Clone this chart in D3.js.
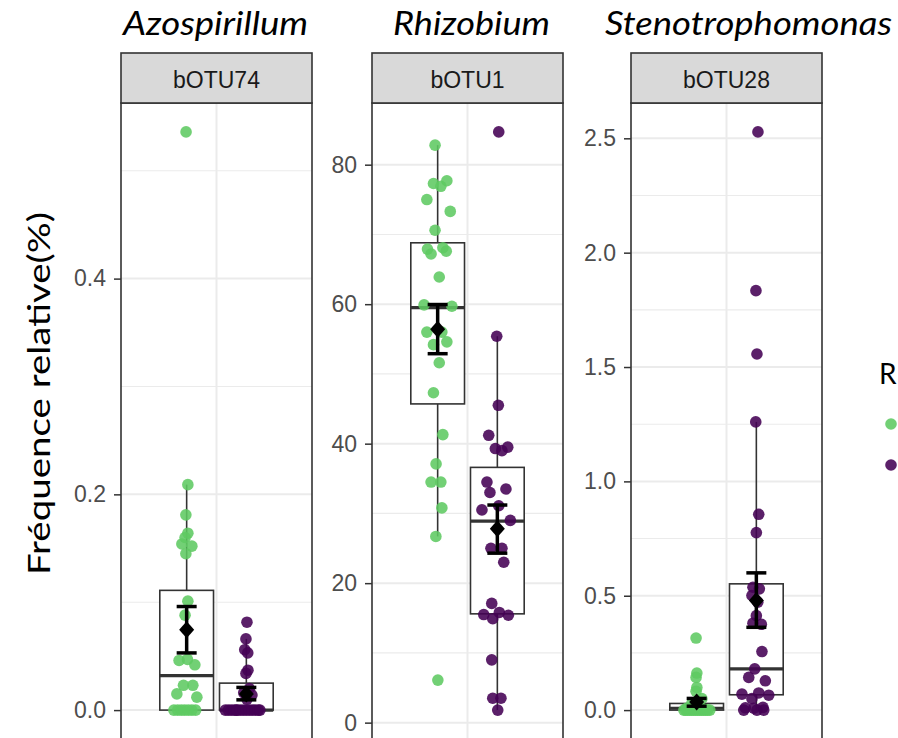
<!DOCTYPE html>
<html>
<meta charset="utf-8">
<style>
    body { margin: 0; background: #fff; }
    svg { display: block; }
    .tick text { font-family: "Liberation Sans", Arial, sans-serif; font-size: 23px; fill: #4d4d4d; }
    .tick line { stroke: #333; stroke-width: 1.5px; }
    .strip text { font-family: "Liberation Sans", Arial, sans-serif; font-size: 23px; fill: #1a1a1a; }
    .title { font-family: Lato, sans-serif; font-style: italic; font-size: 32px; fill: #000; }
    .ytitle, .legtitle { font-family: Lato, sans-serif; fill: #000; }
</style>
<body>
<div id="chart"></div>
<script src="https://d3js.org/d3.v7.min.js"></script>
<script>
var genera = ["Azospirillum", "Rhizobium", "Stenotrophomonas"];
var otus = ["bOTU74", "bOTU1", "bOTU28"];
var groups = ["g1", "g2"];
var colours = ["#5ec962", "#440154"];

// points: [relative frequency, jitter (-1..1)]
var azoG = [[0.536,-0.03],[0.209,0.06],[0.181,-0.04],[0.164,0.06],[0.160,-0.08],[0.154,-0.24],[0.152,0.26],[0.145,-0.04],
    [0.101,0.06],[0.088,-0.08],[0.047,0.04],[0.046,-0.38],[0.042,0.41],[0.023,-0.16],[0.023,0.31],[0.015,-0.49],[0.012,0.51],
    [0,-0.64],[0,-0.45],[0,-0.27],[0,-0.1],[0,0.08],[0,0.26],[0,0.45]];
var azoP = [[0.0815,0.03],[0.066,-0.02],[0.056,-0.08],[0.053,0.07],[0.037,0.08],[0.034,-0.02],[0.020,0.15],[0.016,-0.13],
    [0.014,0.28],[0.010,0.03],[0,-1.05],[0,-0.9],[0,-0.75],[0,-0.6],[0,-0.5],[0,-0.45],[0,-0.3],[0,-0.15],[0,0],
    [0,0.15],[0,0.3],[0,0.45],[0,0.6],[0,0.68]];
var rhiG = [[82.8,-0.13],[77.3,-0.21],[76.9,0.16],[77.7,0.46],[75.0,-0.54],[73.3,0.63],[70.6,-0.13],[67.9,-0.51],[67.2,-0.33],
    [67.6,0.43],[68.1,0.26],[63.9,0.08],[59.9,-0.68],[59.7,0.71],[56.0,-0.54],[56.0,0.21],[54.2,-0.21],[54.6,0.46],[51.6,0.08],
    [47.3,-0.21],[41.3,0.26],[37.1,-0.08],[34.5,-0.33],[34.5,0.16],[30.8,0.21],[26.7,-0.09],[6.1,0.01]];
var rhiP = [[84.7,0.07],[55.4,-0.03],[45.5,0.05],[41.2,-0.43],[39.3,-0.1],[39.0,0.23],[39.5,0.52],[34.5,-0.52],[33.0,-0.37],
    [33.5,0.43],[31.1,0.07],[30.5,-0.77],[29.0,0.65],[25.0,-0.32],[25.0,0.23],[23.0,0.32],[17.1,-0.28],[15.5,-0.68],[15.8,0.1],
    [15.4,0.55],[14.9,-0.23],[9.0,-0.28],[3.5,-0.23],[3.5,0.18],[1.8,0.02]];
var steG = [[0.315,-0.03],[0.162,0.01],[0.143,-0.03],[0.099,0.01],[0.082,-0.03],[0.05,0.26],[0.03,-0.24],[0.012,0.1],
    [0.008,-0.5],[0.005,0.3],[0,-0.64],[0,-0.55],[0,-0.45],[0,-0.35],[0,-0.25],[0,-0.15],[0,-0.05],[0,0.05],[0,0.15],
    [0,0.25],[0,0.35],[0,0.45],[0,0.55],[0,0.66]];
var steP = [[2.528,0.08],[1.834,-0.02],[1.557,0.03],[1.260,-0.03],[0.856,0.12],[0.776,0],[0.537,-0.17],[0.530,0.15],
    [0.501,-0.22],[0.472,0.07],[0.413,0],[0.380,-0.17],[0.375,0.25],[0.256,0.28],[0.18,-0.08],[0.143,-0.38],[0.128,0.45],
    [0.075,0.12],[0.07,-0.72],[0.065,0.62],[0.05,-0.22],[0.012,0.33],[0.01,-0.55],[0.008,-0.13],[0,-0.63],[0,0.03],[0,0.37]];
var points = [[azoG, azoP], [rhiG, rhiP], [steG, steP]];

// boxplot and mean +/- se: [green, purple] per panel
var q1 = [[0, 0], [45.7, 15.6], [0, 0.067]];
var med = [[0.032, 0], [59.5, 28.9], [0.008, 0.18]];
var q3 = [[0.111, 0.025], [68.8, 36.6], [0.029, 0.552]];
var whiskLo = [[0, 0], [26.7, 1.8], [0, 0]];
var whiskHi = [[0.209, 0.066], [82.8, 55.4], [0.068, 1.26]];
var means = [[0.0744, 0.015], [56.4, 27.8], [0.035, 0.479]];
var errLo = [[0.053, 0.0095], [52.9, 24.3], [0.017, 0.362]];
var errHi = [[0.096, 0.021], [59.95, 31.2], [0.051, 0.600]];

var W = 898, H = 738;
var panelLeft = [121, 372, 631], panelW = 191;
var stripTop = 53, panelTop = 103, panelBottom = 739;
var titleCx = [215.5, 471.5, 748.5], titleW = [185, 157, 287];

var svg = d3.select("#chart").append("svg").attr("width", W).attr("height", H);
svg.append("rect").attr("width", W).attr("height", H).attr("fill", "#fff");

var jit = d3.scaleLinear().domain([-1, 1]).range([-20, 20]);

genera.forEach(function(gen, i) {
    var g = svg.append("g").attr("transform", "translate(" + panelLeft[i] + ",0)");
    var x = d3.scaleBand().domain([otus[i]]).range([0, panelW]).paddingOuter(0.3).paddingInner(0);
    var xg = d3.scaleBand().domain(groups).range([0, x.bandwidth()]).paddingInner(0.1).paddingOuter(0.05);
    var vals = points[i][0].concat(points[i][1]).map(function(d) { return d[0]; });
    var ext = d3.extent(vals), pad = (ext[1] - ext[0]) * 0.05;
    var y = d3.scaleLinear().domain([ext[0] - pad, ext[1] + pad]).range([panelBottom, panelTop]);

    var major = y.ticks(4), step = major[1] - major[0];
    var minor = [major[0] - step / 2].concat(major.map(function(t) { return t + step / 2; }))
        .filter(function(t) { return t > y.domain()[0] && t < y.domain()[1]; });

    g.append("rect").attr("x", 0).attr("y", panelTop).attr("width", panelW)
        .attr("height", panelBottom - panelTop).attr("fill", "#fff");
    g.selectAll(".minor").data(minor).enter().append("line")
        .attr("x1", 0).attr("x2", panelW).attr("y1", y).attr("y2", y)
        .attr("stroke", "#ebebeb").attr("stroke-width", 1.1);
    g.selectAll(".major").data(major).enter().append("line")
        .attr("x1", 0).attr("x2", panelW).attr("y1", y).attr("y2", y)
        .attr("stroke", "#ebebeb").attr("stroke-width", 2);
    var xc = x(otus[i]) + x.bandwidth() / 2;
    g.append("line").attr("x1", xc).attr("x2", xc).attr("y1", panelTop).attr("y2", panelBottom)
        .attr("stroke", "#ebebeb").attr("stroke-width", 2);

    // boxes
    groups.forEach(function(grp, k) {
        var bx = x(otus[i]) + xg(grp), bw = xg.bandwidth(), cx = bx + bw / 2;
        g.append("line").attr("x1", cx).attr("x2", cx).attr("y1", y(q3[i][k])).attr("y2", y(whiskHi[i][k]))
            .attr("stroke", "#333").attr("stroke-width", 1.6);
        g.append("line").attr("x1", cx).attr("x2", cx).attr("y1", y(q1[i][k])).attr("y2", y(whiskLo[i][k]))
            .attr("stroke", "#333").attr("stroke-width", 1.6);
        g.append("rect").attr("x", bx).attr("y", y(q3[i][k])).attr("width", bw)
            .attr("height", y(q1[i][k]) - y(q3[i][k]))
            .attr("fill", "#fff").attr("stroke", "#333").attr("stroke-width", 1.6);
        g.append("line").attr("x1", bx).attr("x2", bx + bw).attr("y1", y(med[i][k])).attr("y2", y(med[i][k]))
            .attr("stroke", "#333").attr("stroke-width", 3.2);
    });

    // jittered points
    groups.forEach(function(grp, k) {
        var cx = x(otus[i]) + xg(grp) + xg.bandwidth() / 2;
        g.selectAll(".pt" + k).data(points[i][k]).enter().append("circle")
            .attr("cx", function(d) { return cx + jit(d[1]); })
            .attr("cy", function(d) { return y(d[0]); })
            .attr("r", 5.8).attr("fill", colours[k]).attr("fill-opacity", 0.88);
    });

    // mean and standard error
    groups.forEach(function(grp, k) {
        var cx = x(otus[i]) + xg(grp) + xg.bandwidth() / 2;
        var lo = y(errLo[i][k]), hi = y(errHi[i][k]), m = y(means[i][k]);
        g.append("line").attr("x1", cx).attr("x2", cx).attr("y1", lo).attr("y2", hi)
            .attr("stroke", "#000").attr("stroke-width", 3.5);
        [lo, hi].forEach(function(v) {
            g.append("line").attr("x1", cx - 10).attr("x2", cx + 10).attr("y1", v).attr("y2", v)
                .attr("stroke", "#000").attr("stroke-width", 3.5);
        });
        g.append("path")
            .attr("d", "M" + cx + "," + (m - 8.5) + "L" + (cx + 7.5) + "," + m + "L" + cx + "," + (m + 8.5) + "L" + (cx - 7.5) + "," + m + "Z")
            .attr("fill", "#000");
    });

    g.append("rect").attr("x", 0).attr("y", panelTop).attr("width", panelW)
        .attr("height", panelBottom - panelTop).attr("fill", "none").attr("stroke", "#333").attr("stroke-width", 1.6);

    var strip = g.append("g").attr("class", "strip");
    strip.append("rect").attr("x", 0).attr("y", stripTop).attr("width", panelW).attr("height", panelTop - stripTop)
        .attr("fill", "#d9d9d9").attr("stroke", "#333").attr("stroke-width", 1.6);
    strip.append("text").attr("x", panelW / 2).attr("y", 88).attr("text-anchor", "middle").text(otus[i]);

    g.append("g").call(d3.axisLeft(y).ticks(4).tickSize(7).tickPadding(8))
        .call(function(a) { a.select(".domain").remove(); });

    svg.append("text").attr("class", "title").attr("x", titleCx[i]).attr("y", 35)
        .attr("text-anchor", "middle").attr("textLength", titleW[i]).attr("lengthAdjust", "spacingAndGlyphs")
        .text(gen);
});

svg.append("text").attr("class", "ytitle")
    .attr("transform", "translate(50,393.5) rotate(-90)")
    .attr("text-anchor", "middle").attr("font-size", 30)
    .attr("textLength", 363).attr("lengthAdjust", "spacingAndGlyphs")
    .text("Fréquence relative(%)");

// legend (the reference is cut at the right edge)
svg.append("text").attr("class", "legtitle").attr("x", 879).attr("y", 384).attr("font-size", 28).text("R");
svg.selectAll(".key").data(groups).enter().append("circle")
    .attr("cx", 891).attr("cy", function(d, k) { return 424 + k * 41; })
    .attr("r", 5.8).attr("fill", function(d, k) { return colours[k]; }).attr("fill-opacity", 0.88);
</script>
</body>
</html>
